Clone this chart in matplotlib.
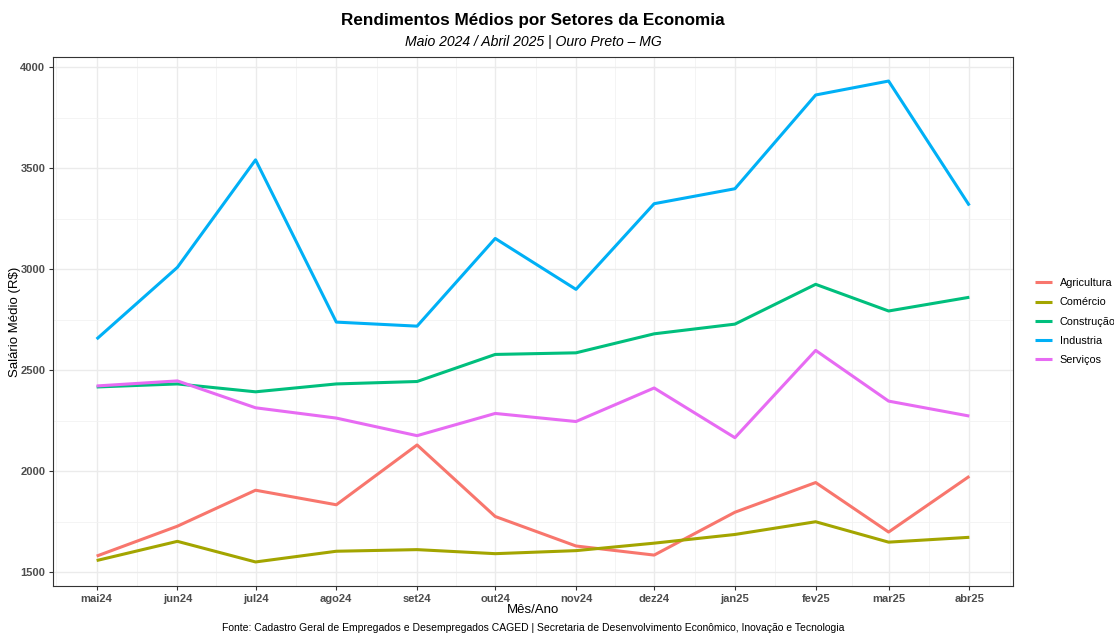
import matplotlib
matplotlib.use("Agg")
import matplotlib.pyplot as plt
import matplotlib.dates as mdates
import numpy as np
from datetime import date

plt.rcParams['font.family'] = ['Liberation Sans', 'DejaVu Sans']

meses = ["mai24", "jun24", "jul24", "ago24", "set24", "out24",
         "nov24", "dez24", "jan25", "fev25", "mar25", "abr25"]
datas = [date(2024, 5, 1), date(2024, 6, 1), date(2024, 7, 1), date(2024, 8, 1),
         date(2024, 9, 1), date(2024, 10, 1), date(2024, 11, 1), date(2024, 12, 1),
         date(2025, 1, 1), date(2025, 2, 1), date(2025, 3, 1), date(2025, 4, 1)]

setores = ["Agricultura", "Comércio", "Construção", "Industria", "Serviços"]
agricultura = [1580, 1728, 1906, 1834, 2130, 1776, 1630, 1585, 1797, 1944, 1699, 1975]
comercio = [1558, 1653, 1551, 1604, 1612, 1592, 1607, 1644, 1687, 1750, 1649, 1673]
construcao = [2417, 2432, 2393, 2432, 2444, 2578, 2586, 2680, 2728, 2925, 2793, 2861]
industria = [2654, 3009, 3541, 2738, 2718, 3152, 2900, 3324, 3398, 3862, 3931, 3315]
servicos = [2422, 2447, 2314, 2263, 2176, 2286, 2246, 2412, 2166, 2598, 2347, 2273]
series = [agricultura, comercio, construcao, industria, servicos]
cores = ["#F8766D", "#A3A500", "#00BF7D", "#00B0F6", "#E76BF3"]

W, H = 1114, 634
fig = plt.figure(figsize=(W / 100, H / 100), dpi=100)
ax = fig.add_axes([53/W, 1-586/H, 960/W, 529/H])

x = mdates.date2num(datas)
for nome, vals, cor in zip(setores, series, cores):
    ax.plot(x, vals, color=cor, lw=2.2, label=nome, solid_capstyle='butt')

# limites com expansao de 5% (como no ggplot)
allv = np.concatenate([np.array(s) for s in series])
lo, hi = allv.min(), allv.max()
pad = (hi - lo) * 0.05
ax.set_ylim(lo - pad, hi + pad)
xpad = (x[-1] - x[0]) * 0.05
ax.set_xlim(x[0] - xpad, x[-1] + xpad)

ax.set_xticks(x)
ax.set_xticklabels(meses)
minor_x = (x[:-1] + x[1:]) / 2
minor_x = np.concatenate([[x[0] - (x[1] - x[0]) / 2], minor_x, [x[-1] + (x[-1] - x[-2]) / 2]])
ax.set_xticks(minor_x, minor=True)
ax.set_yticks([1500, 2000, 2500, 3000, 3500, 4000])
ax.set_yticks([1750, 2250, 2750, 3250, 3750], minor=True)

ax.grid(True, which='major', color='#EBEBEB', lw=1.0)
ax.grid(True, which='minor', color='#F2F2F2', lw=0.6)
ax.set_axisbelow(True)
ax.tick_params(which='minor', length=0)
ax.tick_params(which='major', length=3, color='#333333', width=0.8, pad=2.5)
for lab in ax.get_xticklabels() + ax.get_yticklabels():
    lab.set_fontweight('bold')
    lab.set_color('#4D4D4D')
    lab.set_fontsize(8)
for s in ax.spines.values():
    s.set_color('#333333')
    s.set_linewidth(0.8)

ax.set_xlabel("Mês/Ano", fontsize=9.5)
ax.xaxis.set_label_coords(0.5, -(610 - 586) / 529, transform=ax.transAxes)
ax.xaxis.label.set_va('center')
ax.set_ylabel("Salário Médio (R$)", fontsize=9.5)
ax.yaxis.set_label_coords(-(53 - 15) / 960, 0.5, transform=ax.transAxes)
ax.yaxis.label.set_va('center')

cx = (53 + 1013) / 2 / W
fig.text(cx, 1 - 20/H, "Rendimentos Médios por Setores da Economia",
         ha='center', va='center', fontsize=12.3, fontweight='bold')
fig.text(cx, 1 - 42/H, "Maio 2024 / Abril 2025 | Ouro Preto – MG",
         ha='center', va='center', fontsize=10.1, style='italic')
fig.text(cx, 1 - 628/H, "Fonte: Cadastro Geral de Empregados e Desempregados CAGED | "
         "Secretaria de Desenvolvimento Econômico, Inovação e Tecnologia",
         ha='center', va='center', fontsize=7.5)

leg = ax.legend(loc='center left', bbox_to_anchor=(1.0, 0.5), frameon=False,
                fontsize=7.8, handlelength=1.6, handletextpad=0.7,
                labelspacing=0.85, borderaxespad=1.6)

fig.savefig("out.png", dpi=100)
